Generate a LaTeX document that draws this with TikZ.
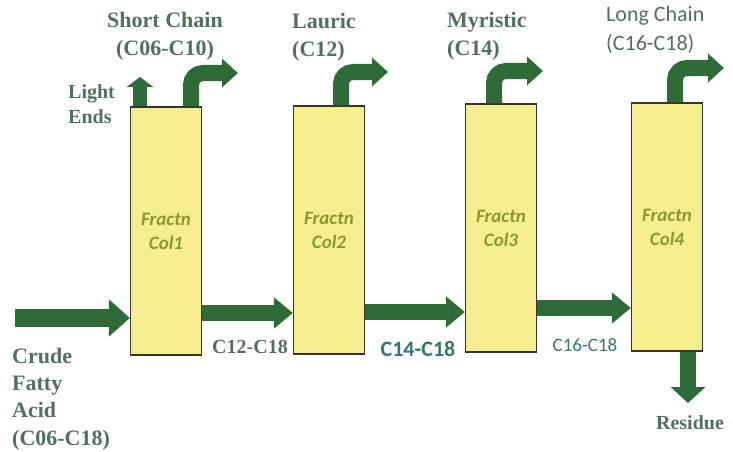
\documentclass[tikz,border=0pt]{standalone}
\usepackage{fontspec}
\setmainfont{Liberation Serif}
\newfontfamily\calfont{Carlito}
\usetikzlibrary{arrows.meta}
\definecolor{colfill}{HTML}{F6EE8E}
\definecolor{pipegreen}{HTML}{2F6B38}
\definecolor{lblgreen}{HTML}{52705A}
\definecolor{olivetxt}{HTML}{8A9A2A}
\definecolor{tealtxt}{HTML}{35786A}
\begin{document}
\begin{tikzpicture}[x=1pt, y=-1pt,
  col/.style={draw=black!80, fill=colfill, line width=1.2pt, minimum width=71pt,
    minimum height=248pt, inner sep=0pt, align=center, text=olivetxt,
    font=\calfont\bfseries\itshape\fontsize{19}{24}\selectfont},
  lbl/.style={text=lblgreen, inner sep=0pt, font=\bfseries\fontsize{22}{28}\selectfont},
  sml/.style={lbl, font=\bfseries\fontsize{20}{25}\selectfont},
  cal/.style={inner sep=0pt, font=\calfont\fontsize{22}{29}\selectfont},
  pipe/.style={draw=pipegreen, line width=16pt, -{Triangle[length=19pt,width=30pt]}},
  bentpipe/.style={pipe, rounded corners=12pt, -{Triangle[length=16pt,width=28pt]}}]
\useasboundingbox (0,0) rectangle (733,452);
\node[col] (c1) at (166,231) {Fractn\\Col1};
\node[col] (c2) at (329,230) {Fractn\\Col2};
\node[col] (c3) at (501,228) {Fractn\\Col3};
\node[col] (c4) at (667,227) {Fractn\\Col4};
\coordinate (feed) at (15,318);
\coordinate (out1) at (238,73);
\coordinate (out2) at (388,72);
\coordinate (out3) at (543,71);
\coordinate (out4) at (724,68);
\coordinate (light) at (140,77);
\coordinate (res) at (688,403);
\draw[pipe, line width=18pt, -{Triangle[length=21pt,width=36pt]}] (feed) -- (feed -| c1.west);
\draw[pipe] (c1.east |- 0,313) -- (c2.west |- 0,313);
\draw[pipe] (c2.east |- 0,312) -- (c3.west |- 0,312);
\draw[pipe] (c3.east |- 0,308) -- (c4.west |- 0,308);
\draw[pipe, -{Triangle[length=16pt,width=34pt]}] (res |- c4.south) -- (res);
\draw[bentpipe] ([xshift=25pt]c1.north) |- (out1);
\draw[bentpipe] ([xshift=12pt]c2.north) |- (out2);
\draw[bentpipe] ([xshift=-7pt]c3.north) |- (out3);
\draw[bentpipe] ([xshift=8pt]c4.north) |- (out4);
\draw[pipe, line width=14pt, -{Triangle[length=10pt,width=26pt]}] ([xshift=-26pt]c1.north) -- (light);
\node (shortlbl) at (165,36) [lbl, align=center] {Short Chain\\(C06-C10)};
\node (lauriclbl) at (292,37) [lbl, align=left, anchor=west] {Lauric\\(C12)};
\node (myrlbl) at (447,36) [lbl, align=left, anchor=west] {Myristic\\(C14)};
\node (longlbl) at (606,30) [cal, text=lblgreen, align=left, anchor=west] {Long Chain\\(C16-C18)};
\node (lightlbl) at (68,104) [sml, align=left, anchor=west] {Light\\Ends};
\node (crudelbl) at (12,399) [lbl, align=left, anchor=west, font=\bfseries\fontsize{22}{27.3}\selectfont] {Crude\\Fatty\\Acid\\(C06-C18)};
\node (s12) at (250,347) [sml] {C12-C18};
\node (s14) at (418,349) [cal, text=tealtxt, font=\calfont\bfseries\fontsize{22}{28}\selectfont] {C14-C18};
\node (s16) at (585,345) [cal, text=tealtxt, font=\calfont\fontsize{19}{24}\selectfont] {C16-C18};
\node (reslbl) at (690,423) [sml] {Residue};
\end{tikzpicture}
\end{document}
